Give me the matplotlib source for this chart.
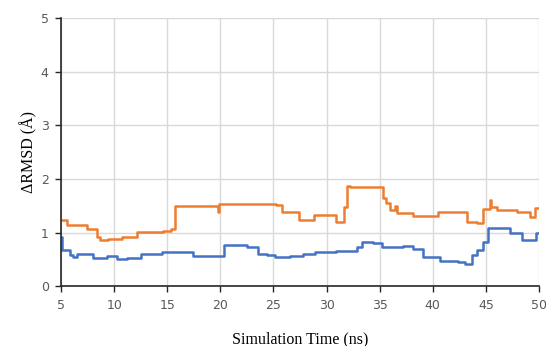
import matplotlib.pyplot as plt

# orange series (step points: time in ns, value in Angstrom)
orange_t = [5.0, 5.55, 7.45, 8.4, 8.7, 9.4, 10.7, 12.1, 14.6, 15.3, 15.7, 19.8, 19.9,
            25.2, 25.8, 27.4, 28.8, 30.9, 31.6, 31.9, 32.2, 35.3, 35.6, 36.0, 36.4,
            36.6, 38.1, 40.5, 43.2, 44.2, 44.7, 45.4, 45.5, 46.1, 47.9, 49.2, 49.6, 50.0]
orange_v = [1.23, 1.14, 1.06, 0.91, 0.86, 0.88, 0.92, 1.01, 1.03, 1.06, 1.50, 1.38, 1.53,
            1.51, 1.38, 1.23, 1.32, 1.20, 1.48, 1.87, 1.84, 1.64, 1.55, 1.42, 1.50,
            1.36, 1.31, 1.38, 1.20, 1.17, 1.44, 1.60, 1.48, 1.42, 1.38, 1.29, 1.45, 1.45]

# blue series
blue_t = [5.0, 5.1, 5.85, 6.1, 6.5, 8.0, 9.3, 10.3, 11.2, 12.5, 14.5, 17.4, 20.3,
          22.5, 23.5, 24.4, 25.1, 26.6, 27.8, 28.9, 30.9, 32.9, 33.3, 34.4, 35.2,
          37.2, 38.1, 39.1, 40.7, 42.4, 43.0, 43.7, 44.2, 44.7, 45.2, 47.3, 48.4,
          49.7, 50.0]
blue_v = [0.91, 0.67, 0.58, 0.54, 0.60, 0.52, 0.56, 0.50, 0.53, 0.60, 0.64, 0.56, 0.77,
          0.73, 0.60, 0.58, 0.54, 0.56, 0.60, 0.63, 0.66, 0.73, 0.82, 0.80, 0.73,
          0.75, 0.69, 0.54, 0.47, 0.45, 0.42, 0.58, 0.67, 0.82, 1.08, 0.99, 0.86,
          0.99, 0.99]

x_ticks = [5, 10, 15, 20, 25, 30, 35, 40, 45, 50]
y_ticks = [0, 1, 2, 3, 4, 5]

fig = plt.figure(figsize=(5.46, 3.46), dpi=100)
ax = fig.add_axes([0.112, 0.173, 0.875, 0.775])

ax.plot(orange_t, orange_v, drawstyle='steps-post', color='#ED7D31', lw=1.8)
ax.plot(blue_t, blue_v, drawstyle='steps-post', color='#4472C4', lw=1.8)

ax.set_xlim(5, 50)
ax.set_ylim(0, 5)
ax.set_xticks(x_ticks)
ax.set_yticks(y_ticks)
ax.grid(True, color='#d9d9d9', lw=1.0)
ax.set_axisbelow(True)

for s in ['top', 'right']:
    ax.spines[s].set_visible(False)
for s in ['left', 'bottom']:
    ax.spines[s].set_color('#262626')
    ax.spines[s].set_linewidth(1.2)

ax.tick_params(direction='out', length=4, width=1.0, color='#262626',
               labelsize=9, labelcolor='#595959', pad=5)

ax.set_xlabel('Simulation Time (ns)', family='Liberation Serif', fontsize=11.5,
              labelpad=14)
ax.set_ylabel('ΔRMSD (Å)', family='Liberation Serif', fontsize=11.5, labelpad=2)

fig.savefig('out.png', dpi=100)
